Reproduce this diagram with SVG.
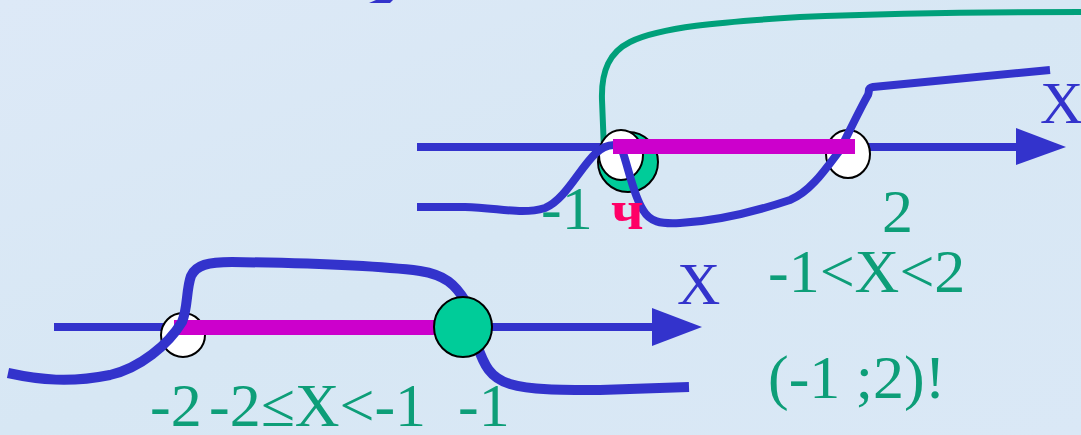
<svg xmlns="http://www.w3.org/2000/svg" width="1081" height="435" viewBox="0 0 1081 435">
  <style>
    .axis { stroke: #3333cc; stroke-width: 8; fill: none; }
    .arrow { fill: #3333cc; }
    .curve { stroke: #3333cc; stroke-width: 8; fill: none; stroke-linejoin: round; }
    .curve2 { stroke: #3333cc; stroke-width: 10; fill: none; stroke-linejoin: round; }
    .gcurve { stroke: #00a07a; stroke-width: 6; fill: none; }
    .bar { fill: #cc00cc; }
    .open { fill: #ffffff; stroke: #000000; stroke-width: 2; }
    .closed { fill: #00cc99; stroke: #000000; stroke-width: 2; }
    .lbl { font-family: "Liberation Serif", "Times New Roman", serif; font-size: 62px; fill: #0d9e78; }
    .xl { font-family: "Liberation Serif", "Times New Roman", serif; font-size: 60px; fill: #3333cc; }
    .ch { font-family: "Liberation Serif", "Times New Roman", serif; font-size: 58px; font-weight: bold; fill: #ff0066; }
  </style>
  <defs>
    <linearGradient id="bg" x1="0" y1="0" x2="1" y2="1">
      <stop offset="0" stop-color="#dde9f7"/>
      <stop offset="0.5" stop-color="#d7e7f4"/>
      <stop offset="1" stop-color="#dae8f6"/>
    </linearGradient>
  </defs>
  <rect width="1081" height="435" fill="url(#bg)"/>
  <polygon points="369,3 376,0 393,0 390,3" fill="#3333cc"/>

  <g id="top-diagram">
    <g id="top-axis">
      <line class="axis" x1="417" y1="147" x2="1020" y2="147"/>
      <polygon class="arrow" points="1016,128 1066,147 1016,165"/>
    </g>
    <g id="top-point-minus1">
      <ellipse class="closed" cx="628" cy="162" rx="30" ry="30"/>
    </g>
    <g id="connectors-top">
      <path class="gcurve" d="M604,150 L602,100 C601,70 610,52 630,42 C660,27 720,22 800,17 C900,13 1000,12 1081,12"/>
    </g>
    <g id="top-open-minus1">
      <ellipse class="open" cx="621" cy="155" rx="22" ry="25"/>
    </g>
    <g id="top-open-2">
      <ellipse class="open" cx="848" cy="154" rx="22" ry="24"/>
    </g>
    <g id="connectors-top-blue">
      <path class="curve" d="M417,207 L465,207 C500,208 522,215 545,208 C565,200 580,168 595,154 C602,147 608,145 614,145"/>
      <path class="curve" d="M621,147 C628,165 633,195 643,210 C650,222 660,224 680,223 C720,221 760,210 790,200 C810,192 825,170 840,150 C850,130 862,105 868,95 C870,90 867,88 873,87 L1050,70"/>
    </g>
    <rect class="bar" x="613" y="139" width="242" height="15"/>
  </g>

  <g id="bottom-diagram">
    <g id="bottom-axis">
      <line class="axis" x1="54" y1="327" x2="656" y2="327"/>
      <polygon class="arrow" points="652,308 702,327 652,346"/>
    </g>
    <g id="bottom-open-minus2">
      <ellipse class="open" cx="183" cy="335" rx="22" ry="22"/>
    </g>
    <rect class="bar" x="174" y="320" width="262" height="15"/>
    <g id="connectors-bottom">
      <path class="curve2" d="M8,373 C40,380 70,383 110,375 C140,368 168,345 182,322 C188,308 186,290 191,276 C196,265 208,262 232,262 C300,263 380,266 420,271 C445,275 455,284 466,302"/>
      <path class="curve2" d="M477,345 C484,365 490,378 510,384 C530,390 560,390 600,390 L689,387"/>
    </g>
    <g id="bottom-closed-minus1">
      <ellipse class="closed" cx="463" cy="327" rx="29" ry="30"/>
    </g>
  </g>

  <g id="labels">
    <text class="xl" x="1040" y="123">X</text>
    <text class="lbl" x="541" y="229">-1</text>
    <text class="ch" x="611" y="229">ч</text>
    <text class="lbl" x="882" y="232">2</text>
    <text class="lbl" x="768" y="292">-1&lt;X&lt;2</text>
    <text class="lbl" x="768" y="398">(-1 ;2)!</text>
    <text class="xl" x="677" y="304">X</text>
    <text class="lbl" x="150" y="426">-2</text>
    <text class="lbl" x="209" y="426">-2≤X&lt;-1</text>
    <text class="lbl" x="458" y="426">-1</text>
  </g>
</svg>
